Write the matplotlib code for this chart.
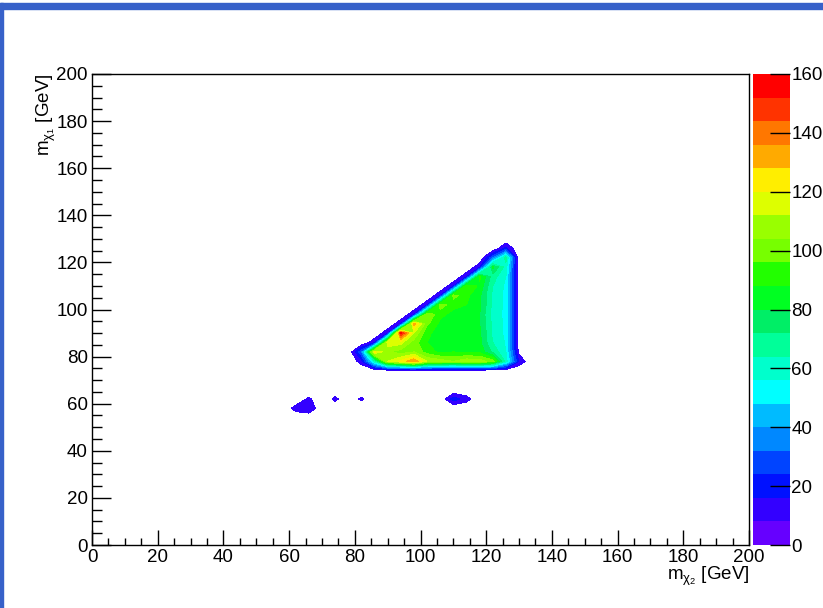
import numpy as np
import matplotlib
matplotlib.use('Agg')
import matplotlib.pyplot as plt
from matplotlib.colors import ListedColormap, BoundaryNorm
from matplotlib.cm import ScalarMappable
from matplotlib.patches import Rectangle
from matplotlib.ticker import MultipleLocator

plt.rcParams['font.family'] = ['Liberation Sans', 'DejaVu Sans']
plt.rcParams['mathtext.fontset'] = 'custom'
plt.rcParams['mathtext.rm'] = 'Liberation Sans'
plt.rcParams['mathtext.it'] = 'Liberation Sans'

# histogram: 50 x 50 bins of 4 GeV, only non-empty part listed
bin_width = 4
x_block = [82, 86, 90, 94, 98, 102, 106, 110, 114, 118, 122, 126, 130]
y_block = [78, 82, 86, 90, 94, 98, 102, 106, 110, 114, 118, 122, 126]
z_block = [
    [12, 60, 112, 122, 136, 112, 108, 104, 110, 108, 100, 60, 15],
    [30, 122, 105, 100, 104, 92, 86, 88, 86, 86, 70, 56, 5],
    [0, 14, 118, 115, 100, 88, 84, 84, 84, 82, 64, 55, 0],
    [0, 0, 14, 155, 112, 90, 84, 82, 82, 82, 62, 54, 0],
    [0, 0, 0, 14, 132, 98, 86, 84, 84, 80, 62, 54, 0],
    [0, 0, 0, 0, 14, 104, 90, 86, 86, 80, 60, 54, 0],
    [0, 0, 0, 0, 0, 14, 102, 90, 88, 82, 62, 54, 0],
    [0, 0, 0, 0, 0, 0, 14, 100, 90, 82, 62, 54, 0],
    [0, 0, 0, 0, 0, 0, 0, 14, 96, 86, 64, 54, 0],
    [0, 0, 0, 0, 0, 0, 0, 0, 14, 90, 68, 56, 0],
    [0, 0, 0, 0, 0, 0, 0, 0, 0, 14, 82, 60, 0],
    [0, 0, 0, 0, 0, 0, 0, 0, 0, 0, 30, 68, 0],
    [0, 0, 0, 0, 0, 0, 0, 0, 0, 0, 0, 18, 0],
]
# small isolated bins below the main region
island_x = [62, 66, 66, 74, 82, 110, 114]
island_y = [58, 58, 62, 62, 62, 62, 62]
island_z = [12, 16, 10, 10.5, 10, 20, 12]

palette = ['#6600ff', '#3300ff', '#0011ff', '#0044ff', '#0088ff',
           '#00bbff', '#00ffff', '#00ffcc', '#00ff99', '#00ee66',
           '#00ff22', '#22ff00', '#77ff00', '#99ff00', '#ddff00',
           '#ffee00', '#ffaa00', '#ff7700', '#ff3300', '#ff0000']
levels = np.linspace(0, 160, 21)


def build_hist():
    centers = np.arange(bin_width / 2, 200, bin_width)
    z = np.zeros((len(centers), len(centers)))
    for i, yv in enumerate(y_block):
        for j, xv in enumerate(x_block):
            z[int(yv // bin_width), int(xv // bin_width)] = z_block[i][j]
    for xv, yv, v in zip(island_x, island_y, island_z):
        z[int(yv // bin_width), int(xv // bin_width)] = v
    return centers, z


centers, z = build_hist()

fig = plt.figure(figsize=(8.23, 6.08), dpi=100)

# window border of the canvas screenshot
fig.patches.append(Rectangle((0, 1 - 9 / 608), 1, 6 / 608, transform=fig.transFigure,
                             color='#3761c9', zorder=-1))
fig.patches.append(Rectangle((0, 0), 3 / 823, 1 - 3 / 608, transform=fig.transFigure,
                             color='#3761c9', zorder=-1))

ax = fig.add_axes([92 / 823, 63 / 608, 657 / 823, 471 / 608])
ax.contourf(centers, centers, z, levels=levels[1:], colors=palette[1:])
ax.set_xlim(0, 200)
ax.set_ylim(0, 200)

fs = 13.5
ax.xaxis.set_major_locator(MultipleLocator(20))
ax.xaxis.set_minor_locator(MultipleLocator(5))
ax.yaxis.set_major_locator(MultipleLocator(20))
ax.yaxis.set_minor_locator(MultipleLocator(5))
ax.tick_params(axis='x', which='major', direction='in', length=10.8, width=1, labelsize=fs, pad=3)
ax.tick_params(axis='x', which='minor', direction='in', length=5.4, width=1)
ax.tick_params(axis='y', which='major', direction='in', length=13.7, width=1, labelsize=fs, pad=3)
ax.tick_params(axis='y', which='minor', direction='in', length=7.2, width=1)
for spine in ax.spines.values():
    spine.set_linewidth(1)

ax.set_xlabel(r'm$_{\chi_{2}}$ [GeV]', fontsize=fs, loc='right', labelpad=-1)
ax.set_ylabel(r'm$_{\chi_{1}}$ [GeV]', fontsize=fs, loc='top', labelpad=-1)

cax = fig.add_axes([753 / 823, 63 / 608, 37 / 823, 471 / 608])
sm = ScalarMappable(norm=BoundaryNorm(levels, len(palette)), cmap=ListedColormap(palette))
cbar = fig.colorbar(sm, cax=cax, ticks=np.arange(0, 161, 20))
cbar.outline.set_visible(False)
cax.tick_params(direction='in', length=14.4, width=1, labelsize=fs, pad=1)
cax.minorticks_off()

plt.savefig('out.png', dpi=100)
